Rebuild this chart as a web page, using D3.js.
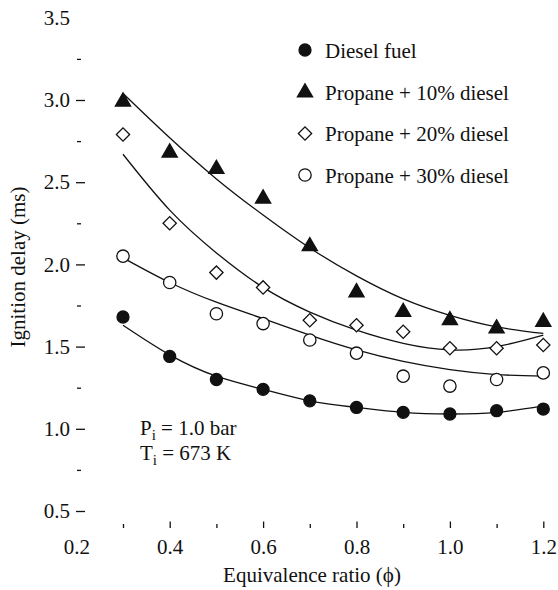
<!DOCTYPE html>
<meta charset="utf-8">
<style>
  body { margin: 0; background: #fff; }
</style>
<svg width="558" height="590" style="font-family: 'Liberation Serif', 'DejaVu Serif', serif;"></svg>
<script src="https://d3js.org/d3.v7.min.js"></script>
<script>
  // equivalence ratio values
  var phi = [0.3, 0.4, 0.5, 0.6, 0.7, 0.8, 0.9, 1.0, 1.1, 1.2];

  // measured ignition delay (ms)
  var diesel = [1.68, 1.44, 1.30, 1.24, 1.17, 1.13, 1.10, 1.09, 1.11, 1.12];
  var propane10 = [2.99, 2.68, 2.58, 2.40, 2.11, 1.83, 1.71, 1.66, 1.61, 1.65];
  var propane20 = [2.79, 2.25, 1.95, 1.86, 1.66, 1.63, 1.59, 1.49, 1.49, 1.51];
  var propane30 = [2.05, 1.89, 1.70, 1.64, 1.54, 1.46, 1.32, 1.26, 1.30, 1.34];

  // trend curves
  var fitDiesel = [1.63, 1.45, 1.32, 1.24, 1.17, 1.13, 1.10, 1.09, 1.10, 1.14];
  var fit10 = [3.04, 2.77, 2.52, 2.30, 2.10, 1.93, 1.79, 1.69, 1.62, 1.58];
  var fit20 = [2.67, 2.33, 2.07, 1.86, 1.71, 1.60, 1.52, 1.48, 1.50, 1.57];
  var fit30 = [2.04, 1.89, 1.77, 1.67, 1.57, 1.48, 1.41, 1.36, 1.33, 1.32];

  var legendLabels = ["Diesel fuel", "Propane + 10% diesel", "Propane + 20% diesel", "Propane + 30% diesel"];

  var xLabelTicks = [0.2, 0.4, 0.6, 0.8, 1.0, 1.2];
  var xMarkTicks = [0.3, 0.4, 0.5, 0.6, 0.7, 0.8, 0.9, 1.0, 1.1, 1.2];
  var yMajorTicks = [0.5, 1.0, 1.5, 2.0, 2.5, 3.0, 3.5];
  var yMinorTicks = [0.75, 1.25, 1.75, 2.25, 2.75, 3.25];

  var serif = "'Liberation Serif', 'DejaVu Serif', serif";
  var fontSize = 21;

  var svg = d3.select("svg");

  var x = d3.scaleLinear().domain([0.2, 1.2]).range([76.3, 543.3]),
    y = d3.scaleLinear().domain([0.5, 3.0]).range([511, 100]);

  // y axis: major ticks with labels, short minor ticks
  var gy = svg.append("g")
    .attr("transform", "translate(85,0)")
    .call(d3.axisLeft(y).tickValues(yMajorTicks).tickSize(9).tickPadding(6)
      .tickFormat(d3.format(".1f")));
  gy.attr("font-family", serif).attr("font-size", fontSize);
  gy.select(".domain").remove();
  gy.selectAll(".tick line").attr("stroke", "#111").attr("stroke-width", 1.3)
    .filter(function(d) { return d === 3.5; }).remove();
  gy.selectAll(".tick text").attr("fill", "#111");

  var gyMinor = svg.append("g")
    .attr("transform", "translate(81,0)")
    .call(d3.axisLeft(y).tickValues(yMinorTicks).tickSize(4).tickFormat(""));
  gyMinor.select(".domain").remove();
  gyMinor.selectAll(".tick line").attr("stroke", "#111").attr("stroke-width", 1.3);

  // x axis: ticks pointing up, labels every 0.2
  var gx = svg.append("g")
    .attr("transform", "translate(0,528)")
    .call(d3.axisBottom(x).tickValues(xLabelTicks).tickSize(0).tickPadding(11)
      .tickFormat(d3.format(".1f")));
  gx.attr("font-family", serif).attr("font-size", fontSize);
  gx.select(".domain").remove();
  gx.selectAll(".tick text").attr("fill", "#111");

  var gxMarks = svg.append("g")
    .attr("transform", "translate(0,528)")
    .call(d3.axisBottom(x).tickValues(xMarkTicks).tickSize(-4).tickFormat(""));
  gxMarks.select(".domain").remove();
  gxMarks.selectAll(".tick line")
    .attr("stroke", "#111").attr("stroke-width", 1.3)
    .attr("y2", function(d) { return Math.round(d * 10) % 2 === 0 ? -6.5 : -4; });

  // axis titles
  svg.append("text")
    .attr("x", 312).attr("y", 582)
    .attr("text-anchor", "middle")
    .attr("font-family", serif).attr("font-size", fontSize).attr("fill", "#111")
    .text("Equivalence ratio (\u03d5)");

  svg.append("text")
    .attr("transform", "translate(25,267) rotate(-90)")
    .attr("text-anchor", "middle")
    .attr("font-family", serif).attr("font-size", fontSize).attr("fill", "#111")
    .text("Ignition delay (ms)");

  // fitted curves
  var line = d3.line()
    .x(function(d) { return x(d[0]); })
    .y(function(d) { return y(d[1]); })
    .curve(d3.curveNatural);

  [fitDiesel, fit10, fit20, fit30].forEach(function(fit) {
    svg.append("path")
      .datum(d3.zip(phi, fit))
      .attr("d", line)
      .attr("fill", "none")
      .attr("stroke", "#111")
      .attr("stroke-width", 1.3);
  });

  // marker styles per series
  var series = [
    { values: diesel, type: d3.symbolCircle, size: 113, fill: "#111", rotate: 0 },
    { values: propane10, type: d3.symbolTriangle, size: 100, fill: "#111", rotate: 0 },
    { values: propane20, type: d3.symbolSquare, size: 88, fill: "#fff", rotate: 45 },
    { values: propane30, type: d3.symbolCircle, size: 120, fill: "#fff", rotate: 0 }
  ];

  series.forEach(function(s) {
    svg.append("g").selectAll("path")
      .data(d3.zip(phi, s.values))
      .enter().append("path")
      .attr("d", d3.symbol().type(s.type).size(s.size))
      .attr("transform", function(d) {
        return "translate(" + x(d[0]) + "," + y(d[1]) + ") rotate(" + s.rotate + ")";
      })
      .attr("fill", s.fill)
      .attr("stroke", "#111")
      .attr("stroke-width", 1.3);
  });

  // legend
  var legendY = [50, 92.5, 133.5, 175];
  var legend = svg.append("g").attr("font-family", serif).attr("font-size", fontSize);
  series.forEach(function(s, i) {
    legend.append("path")
      .attr("d", d3.symbol().type(s.type).size(s.size))
      .attr("transform", "translate(305," + legendY[i] + ") rotate(" + s.rotate + ")")
      .attr("fill", s.fill)
      .attr("stroke", "#111")
      .attr("stroke-width", 1.3);
    legend.append("text")
      .attr("x", 325).attr("y", legendY[i] + 7.5)
      .attr("fill", "#111")
      .text(legendLabels[i]);
  });

  // test conditions
  var note = svg.append("g").attr("font-family", serif).attr("font-size", fontSize).attr("fill", "#111");
  var p = note.append("text").attr("x", 140).attr("y", 435);
  p.append("tspan").text("P");
  p.append("tspan").attr("dy", 5).attr("font-size", 15).text("i");
  p.append("tspan").attr("dy", -5).text(" = 1.0 bar");
  var t = note.append("text").attr("x", 140).attr("y", 460);
  t.append("tspan").text("T");
  t.append("tspan").attr("dy", 5).attr("font-size", 15).text("i");
  t.append("tspan").attr("dy", -5).text(" = 673 K");
</script>
